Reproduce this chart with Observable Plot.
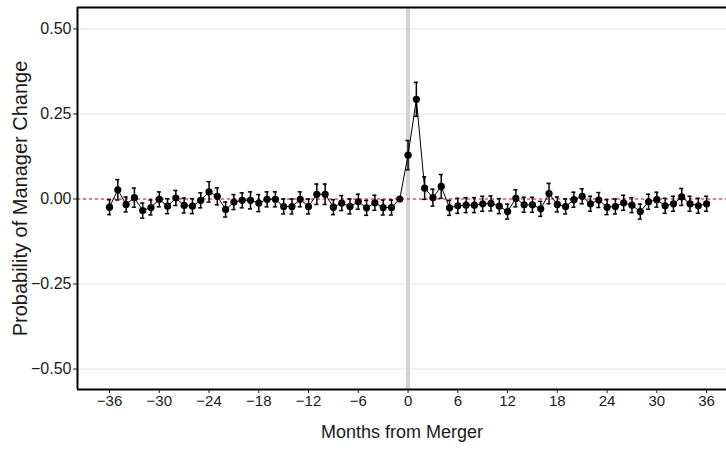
<!DOCTYPE html>
<html><head><meta charset="utf-8">
<script src="https://cdn.jsdelivr.net/npm/d3@7"></script>
<script src="https://cdn.jsdelivr.net/npm/@observablehq/plot@0.6"></script>
<style>
body{margin:0;background:#fff}
svg{font-family:"Liberation Sans",Arial,sans-serif}
</style>
</head><body><div id="chart"></div>
<script>
const months = [-36,-35,-34,-33,-32,-31,-30,-29,-28,-27,-26,-25,-24,-23,-22,-21,-20,-19,-18,-17,-16,-15,-14,-13,-12,-11,-10,-9,-8,-7,-6,-5,-4,-3,-2,-1,0,1,2,3,4,5,6,7,8,9,10,11,12,13,14,15,16,17,18,19,20,21,22,23,24,25,26,27,28,29,30,31,32,33,34,35,36];
const estimates = [-0.024,0.027,-0.016,0.004,-0.034,-0.025,-0.001,-0.021,0.003,-0.019,-0.021,-0.004,0.021,0.008,-0.031,-0.009,-0.004,-0.004,-0.012,-0.001,-0.001,-0.022,-0.022,-0.001,-0.022,0.014,0.014,-0.024,-0.012,-0.022,-0.008,-0.026,-0.011,-0.025,-0.025,0,0.129,0.293,0.032,0.004,0.037,-0.026,-0.020,-0.018,-0.018,-0.014,-0.013,-0.021,-0.037,0.002,-0.017,-0.017,-0.029,0.016,-0.016,-0.022,-0.002,0.008,-0.014,-0.003,-0.024,-0.022,-0.011,-0.018,-0.037,-0.008,-0.002,-0.020,-0.014,0.006,-0.014,-0.020,-0.014];
const halfWidths = [0.022,0.030,0.022,0.028,0.022,0.022,0.022,0.022,0.022,0.022,0.022,0.022,0.030,0.025,0.022,0.022,0.022,0.025,0.025,0.022,0.022,0.022,0.022,0.022,0.022,0.030,0.030,0.022,0.022,0.022,0.022,0.022,0.022,0.022,0.022,0,0.043,0.050,0.033,0.025,0.035,0.022,0.022,0.022,0.022,0.022,0.022,0.022,0.022,0.025,0.022,0.022,0.022,0.030,0.022,0.022,0.022,0.022,0.022,0.022,0.022,0.022,0.022,0.022,0.022,0.022,0.022,0.022,0.022,0.025,0.022,0.022,0.022];
const xTicks = [-36,-30,-24,-18,-12,-6,0,6,12,18,24,30,36];
const yTicks = [-0.5,-0.25,0,0.25,0.5];
const xDomain = [-39.86, 38.4];
const yDomain = [-0.56, 0.563];
const mergerMonth = [0];
const zeroLine = [0];
const xTitle = "Months from Merger";
const yTitle = "Probability of Manager Change";

const rows = months.map((m,i)=>({month:m, est:estimates[i], lo:estimates[i]-halfWidths[i], hi:estimates[i]+halfWidths[i], hw:halfWidths[i]}));
const ci = rows.filter(d=>d.hw>0);
const cap = 0.25;

const chart = Plot.plot({
  width: 726, height: 449,
  marginLeft: 77, marginRight: 0, marginTop: 7, marginBottom: 60,
  x: {domain: xDomain},
  y: {domain: yDomain},
  marks: [
    Plot.gridY(yTicks, {stroke:"#e3e3e3", strokeOpacity:1, strokeWidth:1}),
    Plot.ruleX(mergerMonth, {stroke:"#d3d3d3", strokeWidth:4}),
    Plot.ruleY(zeroLine, {stroke:"#ff0000", strokeWidth:1, strokeDasharray:"3,3"}),
    Plot.line(rows, {x:"month", y:"est", stroke:"black", strokeWidth:1}),
    Plot.ruleX(ci, {x:"month", y1:"lo", y2:"hi", stroke:"black", strokeWidth:1.5}),
    Plot.ruleY(ci, {y:"lo", x1:d=>d.month-cap, x2:d=>d.month+cap, stroke:"black", strokeWidth:1.5}),
    Plot.ruleY(ci, {y:"hi", x1:d=>d.month-cap, x2:d=>d.month+cap, stroke:"black", strokeWidth:1.5}),
    Plot.dot(rows, {x:"month", y:"est", r:3.6, fill:"black", stroke:"none"}),
    Plot.ruleY([yDomain[1]], {stroke:"black", strokeWidth:2}),
    Plot.ruleY([yDomain[0]], {stroke:"black", strokeWidth:2}),
    Plot.ruleX([xDomain[0]], {stroke:"black", strokeWidth:2}),
    Plot.axisX(xTicks, {tickSize:4, tickPadding:2, fontSize:15, color:"#1a1a1a", label:null}),
    Plot.axisY(yTicks, {tickSize:4, tickPadding:2, fontSize:16, color:"#1a1a1a", tickFormat:d3.format(".2f"), label:null}),
    Plot.text([xTitle], {frameAnchor:"bottom", dy:48, fontSize:18, fill:"#1a1a1a"}),
    Plot.text([yTitle], {frameAnchor:"left", dx:-57, rotate:-90, textAnchor:"middle", fontSize:20, fill:"#1a1a1a"})
  ]
});
document.getElementById("chart").appendChild(chart);
</script>
</body></html>
